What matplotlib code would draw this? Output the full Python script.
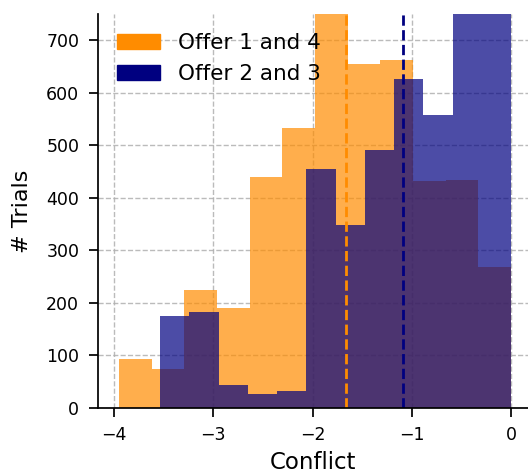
import matplotlib
matplotlib.use("Agg")
import matplotlib.pyplot as plt
from matplotlib.patches import Patch
import numpy as np

# bin edges and counts for the two offer groups
edges_14 = np.linspace(-3.95, 0.0, 13)
counts_14 = [93, 74, 224, 189, 439, 532, 800, 654, 662, 432, 434, 269]
edges_23 = np.linspace(-3.534, 0.0, 13)
counts_23 = [174, 183, 43, 26, 32, 454, 349, 491, 626, 557, 800, 800]

mean_14 = -1.66
mean_23 = -1.085

fig = plt.figure(figsize=(5.28, 4.76), dpi=100)
ax = fig.add_axes([0.1856, 0.1435, 0.8144, 0.827])

ax.grid(True, linestyle="--", color="#b0b0b0", linewidth=1.0, alpha=0.85)
ax.set_axisbelow(True)

ax.hist(edges_14[:-1], bins=edges_14, weights=counts_14,
        color="darkorange", alpha=0.7)
ax.hist(edges_23[:-1], bins=edges_23, weights=counts_23,
        color="navy", alpha=0.7)

ax.axvline(mean_14, color="darkorange", linestyle="--", linewidth=2)
ax.axvline(mean_23, color="navy", linestyle="--", linewidth=2)

ax.set_xlim(-4.16, 0.17)
ax.set_ylim(0, 750)
ax.set_xticks([-4, -3, -2, -1, 0])
ax.set_yticks(range(0, 701, 100))
ax.tick_params(labelsize=12.5, length=6.5, width=1.25, pad=7)
for s in ["top", "right"]:
    ax.spines[s].set_visible(False)
for s in ["left", "bottom"]:
    ax.spines[s].set_linewidth(1.25)

ax.set_xlabel("Conflict", fontsize=16.5, labelpad=5)
ax.set_ylabel("# Trials", fontsize=16, labelpad=10)

handles = [Patch(color="darkorange", label="Offer 1 and 4"),
           Patch(color="navy", label="Offer 2 and 3")]
ax.legend(handles=handles, loc="upper left", frameon=False, fontsize=15.5)

fig.savefig("out.png", dpi=100)
